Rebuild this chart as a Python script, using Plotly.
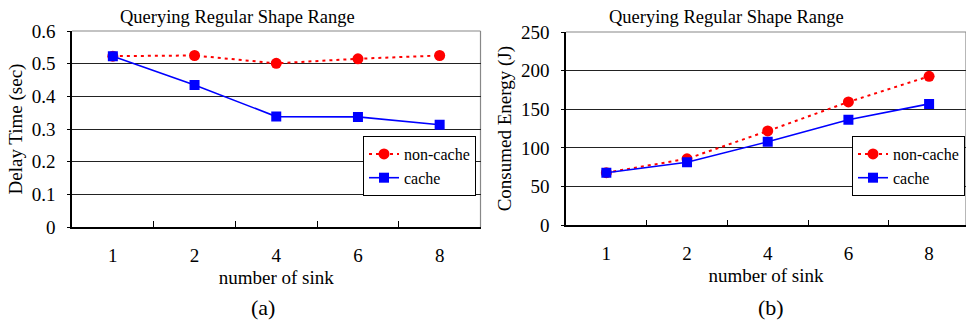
import plotly.graph_objects as go

sinks = ["1", "2", "4", "6", "8"]
delay_noncache = [0.523, 0.525, 0.501, 0.515, 0.525]
delay_cache = [0.523, 0.435, 0.338, 0.337, 0.313]
energy_noncache = [68, 86, 122, 159.5, 192.7]
energy_cache = [68, 81.5, 108, 136.6, 157]

title_text = "Querying Regular Shape Range"
FONT = '"Liberation Serif", "Times New Roman", Times, serif'
RED = "#ff0000"
BLUE = "#0000ff"
FS = 19

fig = go.Figure()

def add_pair(xa, ya, yn, yc, legend):
    fig.add_trace(go.Scatter(
        x=sinks, y=yn, name="non-cache", xaxis=xa, yaxis=ya, legend=legend,
        mode="lines+markers",
        line=dict(color=RED, width=2, dash="3px,4px"),
        marker=dict(symbol="circle", size=11, color=RED)))
    fig.add_trace(go.Scatter(
        x=sinks, y=yc, name="cache", xaxis=xa, yaxis=ya, legend=legend,
        mode="lines+markers",
        line=dict(color=BLUE, width=1.6),
        marker=dict(symbol="square", size=10, color=BLUE)))

add_pair("x", "y", delay_noncache, delay_cache, "legend")
add_pair("x2", "y2", energy_noncache, energy_cache, "legend2")

W, H = 966, 325
tf = dict(family=FONT, size=FS, color="black")
xcommon = dict(type="category", categoryorder="array", categoryarray=sinks,
               showline=True, linecolor="black", linewidth=1.5,
               ticks="inside", tickson="boundaries", ticklen=6, tickcolor="black",
               showgrid=False, zeroline=False, ticklabelstandoff=10, automargin=False,
               tickfont=tf,
               title=dict(text="number of sink", standoff=6, font=tf))
ycommon = dict(showline=True, linecolor="black", linewidth=1.5,
               ticks="outside", ticklen=3, tickcolor="black",
               showgrid=True, gridcolor="#222", gridwidth=1, zeroline=False,
               ticklabelstandoff=8, automargin=False,
               tickfont=tf)

legcommon = dict(xanchor="left", yanchor="top",
                 bgcolor="white", bordercolor="black", borderwidth=1,
                 font=dict(family=FONT, size=16, color="black"),
                 tracegroupgap=0, itemwidth=30)

fig.update_layout(
    template="none",
    width=W, height=H, margin=dict(l=0, r=0, t=0, b=0, pad=0, autoexpand=False),
    paper_bgcolor="white", plot_bgcolor="white",
    font=dict(family=FONT, color="black", size=FS),
    xaxis=dict(xcommon, domain=[72 / W, 480.5 / W], range=[-0.5, 4.5], anchor="y"),
    xaxis2=dict(xcommon, domain=[566 / W, 1.0], range=[-0.5, (966 - 606.3) / 80.7], anchor="y2"),
    yaxis=dict(ycommon, domain=[(H - 227) / H, (H - 31) / H], range=[0, 0.6], dtick=0.1,
               anchor="x",
               title=dict(text="Delay Time (sec)", standoff=4, font=tf)),
    yaxis2=dict(ycommon, domain=[(H - 225.3) / H, (H - 32) / H], range=[0, 250], dtick=50,
                anchor="x2",
                title=dict(text="Consumed Energy (J)", standoff=4, font=tf)),
    legend=dict(legcommon, x=363 / W, y=(H - 136) / H, entrywidth=74),
    legend2=dict(legcommon, x=852 / W, y=(H - 136) / H, entrywidth=74),
    showlegend=True,
)

# light grey plot-area frame on top/right edges
for xa, ya in (("x", "y"), ("x2", "y2")):
    fig.add_shape(type="line", xref=f"{xa} domain", yref=f"{ya} domain",
                  x0=0, x1=1, y0=1, y1=1, line=dict(color="#888", width=1.2), layer="above")
    fig.add_shape(type="line", xref=f"{xa} domain", yref=f"{ya} domain",
                  x0=1, x1=1, y0=0, y1=1, line=dict(color="#888", width=1.2), layer="below")

annos = [
    dict(text=title_text, x=237 / W, y=(H - 17) / H, size=18.5),
    dict(text=title_text, x=726 / W, y=(H - 17) / H, size=18.5),
    dict(text="(a)", x=263 / W, y=(H - 307) / H, size=22),
    dict(text="(b)", x=771 / W, y=(H - 307) / H, size=22),
]
for a in annos:
    fig.add_annotation(text=a["text"], x=a["x"], y=a["y"], xref="paper", yref="paper",
                       xanchor="center", yanchor="middle", showarrow=False,
                       font=dict(family=FONT, size=a["size"], color="black"))

fig.write_html("out.html", config={"displayModeBar": False},
               post_script="document.body.style.margin='0';")
